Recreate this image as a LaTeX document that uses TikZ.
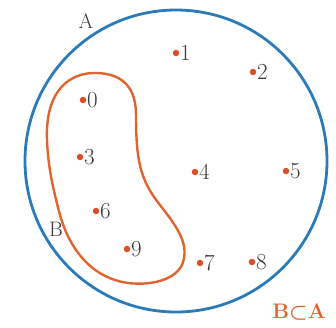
\documentclass[tikz,border=0pt]{standalone}
\usepackage{amsmath,amssymb}
\usepackage{tikz}
\usetikzlibrary{calc}
\usepackage{xcolor}

\definecolor{setblue}{HTML}{2B7BBA}
\definecolor{setorange}{HTML}{E0642E}
\definecolor{dotred}{HTML}{DC4E28}
\definecolor{numgray}{HTML}{3A3A3A}

\tikzset{
  setA/.style={setblue,line width=2.8pt},
  setB/.style={setorange,line width=2.4pt},
  elem/.style={circle,fill=dotred,inner sep=0pt,minimum size=6.5pt,
    label={[numgray,inner sep=0.5pt,font=\fontsize{23}{25}\selectfont]right:#1}},
  setname/.style={numgray,font=\fontsize{21}{23}\selectfont}
}

\begin{document}
\begin{tikzpicture}[x=1pt,y=-1pt]
		\useasboundingbox (0,0) rectangle (336,327);
		
		% Set A
		\draw[setA] (176,161) circle (151);
		\node[setname] (labA) at (86,21) {A};
		
		% Set B
		\draw[setB] (47,140) .. controls (45,90) and (70,72) .. (97,73)
			.. controls (125,74) and (136,90) .. (136,115)
			.. controls (136,160) and (140,180) .. (160,205)
			.. controls (178,228) and (190,245) .. (182,265)
			.. controls (172,285) and (135,287) .. (115,280)
			.. controls (90,272) and (70,250) .. (60,215)
			.. controls (52,185) and (48,165) .. (47,140) -- cycle;
		\node[setname] (labB) at (56,229) {B};
		
		% Elements
		\node[elem=0] (d0) at (83,100) {};
		\node[elem=1] (d1) at (176,53) {};
		\node[elem=2] (d2) at (253,72) {};
		\node[elem=3] (d3) at (80,157) {};
		\node[elem=4] (d4) at (195,172) {};
		\node[elem=5] (d5) at (286,171) {};
		\node[elem=6] (d6) at (96,211) {};
		\node[elem=7] (d7) at (200,263) {};
		\node[elem=8] (d8) at (252,262) {};
		\node[elem=9] (d9) at (127,249) {};
		
		\node[setorange,font=\fontsize{21}{23}\selectfont\bfseries] (incl) at (299,312) {B$\boldsymbol{\subset}$A};
		
	\end{tikzpicture}
\end{document}
